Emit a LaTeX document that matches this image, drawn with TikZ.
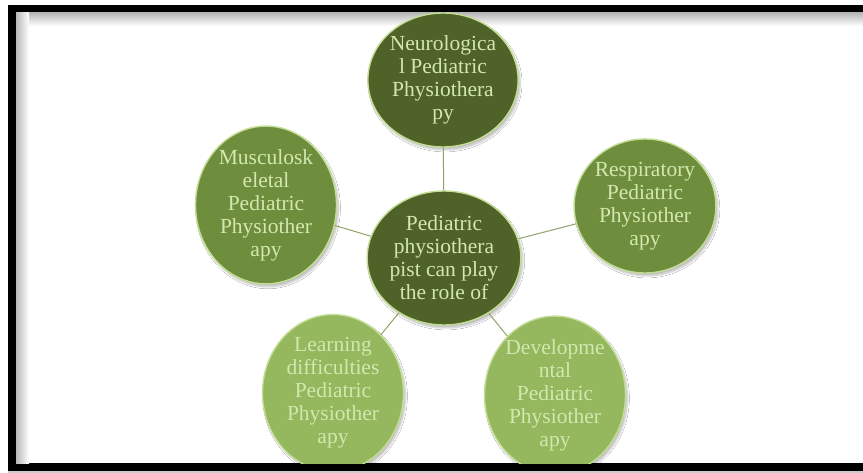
\documentclass[tikz,border=0pt]{standalone}
\usepackage{fontspec}
\setmainfont{Liberation Serif}
\usetikzlibrary{shapes.geometric,shadows.blur}
\definecolor{darkol}{HTML}{4F6228}
\definecolor{midol}{HTML}{6F8E3D}
\definecolor{lightol}{HTML}{95B75E}
\definecolor{txtgr}{HTML}{D3E8AE}
\definecolor{rimgr}{HTML}{C3DE94}
\definecolor{linkgr}{HTML}{8EA469}
\tikzset{
  bubble/.style={ellipse, minimum width=141pt, minimum height=134pt, inner sep=0pt,
    draw=rimgr, line width=1.4pt, text=txtgr, align=center,
    font=\fontsize{21.5}{23}\selectfont,
    blur shadow={shadow xshift=2pt, shadow yshift=-3pt, shadow blur steps=6, shadow opacity=25}},
  link/.style={draw=linkgr, line width=1pt}
}
\begin{document}
\begin{tikzpicture}[x=1pt,y=-1pt]
\useasboundingbox (0,0) rectangle (863,473);
\fill[white] (0,0) rectangle (863,473);
% frame
\fill[black] (8,5) rectangle (863,471);
\fill[white] (16,13) rectangle (863,463);
\shade[top color=gray!55, bottom color=white] (16,13) rectangle (863,26);
\shade[left color=gray!55, right color=white] (16,13) rectangle (29,463);
\fill[white] (29,26) rectangle (863,463);
\fill[gray!40] (8,471) rectangle (863,473);
\begin{scope}
\clip (16,13) rectangle (863,463);
% nodes
\node[bubble, fill=darkol] (ctr) at (444,258) {Pediatric\\physiothera\\pist can play\\the role of};
\node[bubble, fill=darkol] (neu) at (443,80) {Neurologica\\l Pediatric\\Physiothera\\py};
\node[bubble, fill=midol] (res) at (645,206) {Respiratory\\Pediatric\\Physiother\\apy};
\node[bubble, fill=midol] (mus) at (266,205) {Musculosk\\eletal\\Pediatric\\Physiother\\apy};
\node[bubble, fill=lightol] (lea) at (333,393) {Learning\\difficulties\\Pediatric\\Physiother\\apy};
\node[bubble, fill=lightol] (dev) at (555,395) {Developme\\ntal\\Pediatric\\Physiother\\apy};
% links
\draw[link] (ctr) -- (neu);
\draw[link] (ctr) -- (res);
\draw[link] (ctr) -- (mus);
\draw[link] (ctr) -- (lea);
\draw[link] (ctr) -- (dev);
\end{scope}
\end{tikzpicture}
\end{document}
